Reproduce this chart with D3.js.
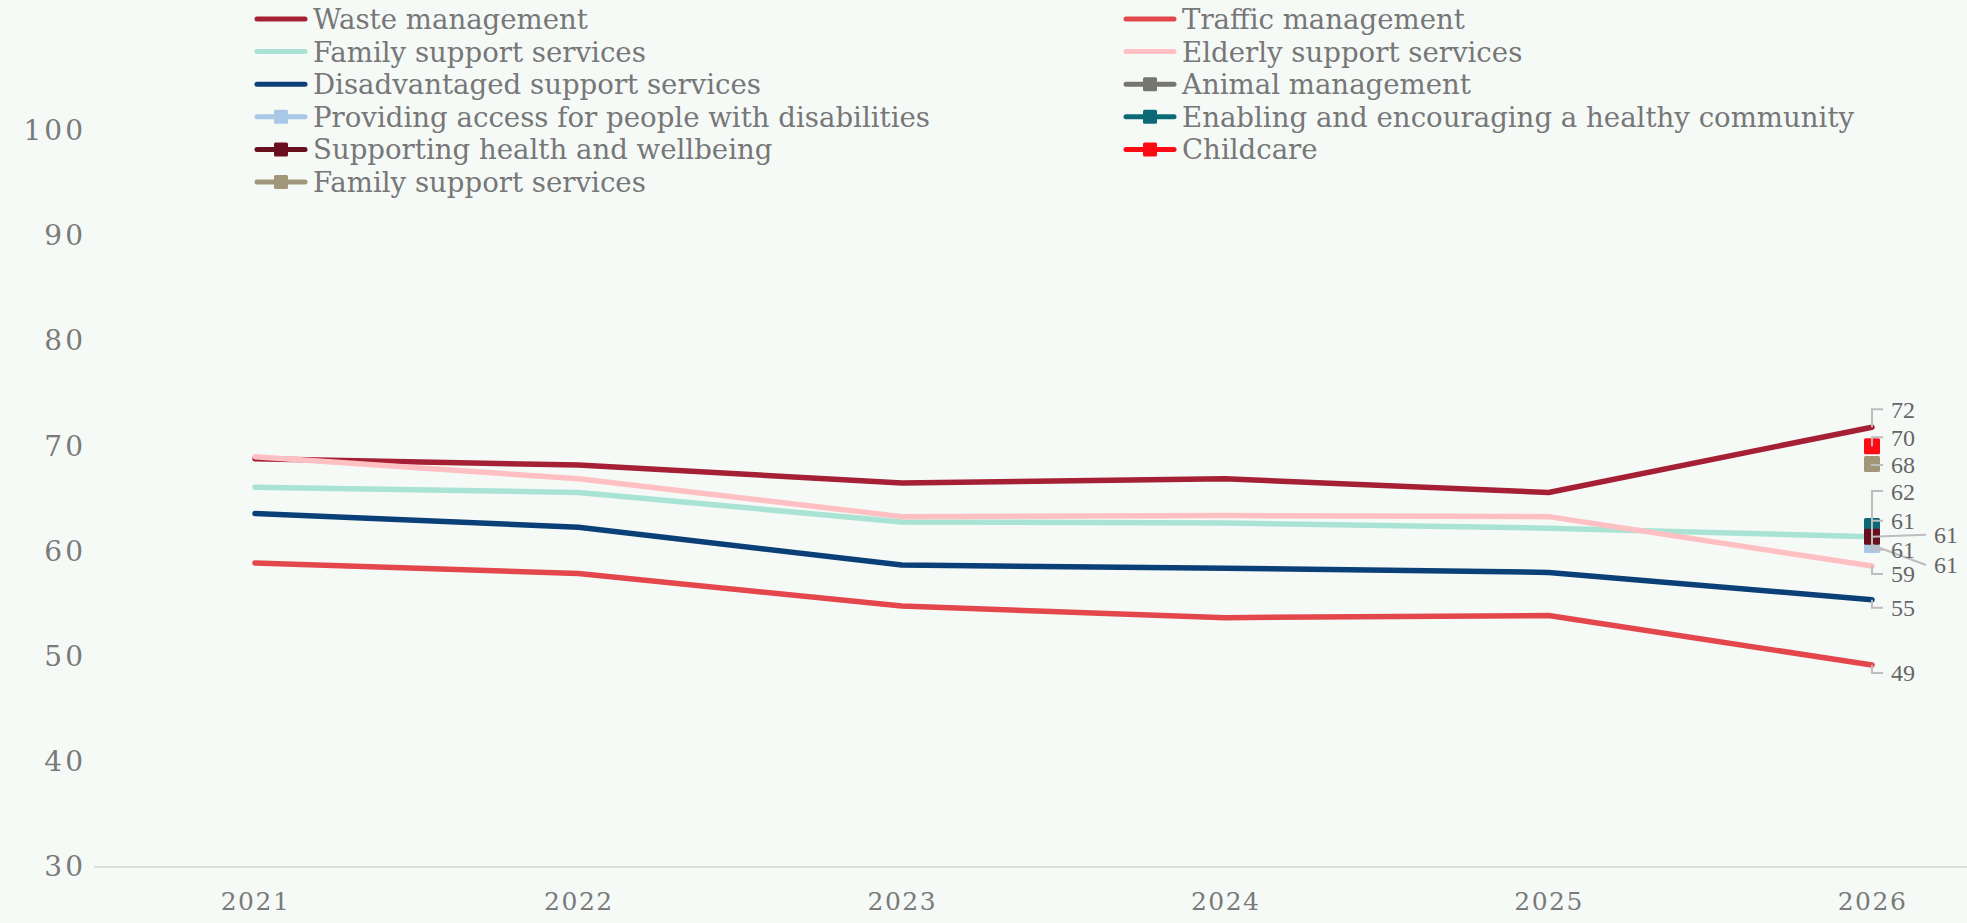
<!DOCTYPE html>
<html>
<head>
<meta charset="utf-8">
<script src="https://cdn.jsdelivr.net/npm/d3@7"></script>
<style>
  html, body { margin: 0; padding: 0; background: #f6faf7; }
  svg { display: block; }
</style>
</head>
<body>
<div id="chart"></div>
<script>
// data
var years = [2021, 2022, 2023, 2024, 2025, 2026];
var seriesNames = ["Waste management", "Traffic management", "Family support services",
    "Elderly support services", "Disadvantaged support services", "Animal management",
    "Providing access for people with disabilities", "Enabling and encouraging a healthy community",
    "Supporting health and wellbeing", "Childcare", "Family support services"];
var waste         = [68.8, 68.2, 66.5, 66.9, 65.6, 71.8];
var traffic       = [58.9, 57.9, 54.8, 53.7, 53.9, 49.2];
var family        = [66.1, 65.6, 62.8, 62.7, 62.2, 61.4];
var elderly       = [69.0, 66.9, 63.3, 63.4, 63.3, 58.6];
var disadvantaged = [63.6, 62.3, 58.7, 58.4, 58.0, 55.4];
var animal        = [null, null, null, null, null, 61.3];
var providing     = [null, null, null, null, null, 60.6];
var enabling      = [null, null, null, null, null, 62.4];
var supporting    = [null, null, null, null, null, 61.4];
var childcare     = [null, null, null, null, null, 70.0];
var family2       = [null, null, null, null, null, 68.3];
var yTicks = [30, 40, 50, 60, 70, 80, 90, 100];

var seriesValues = [waste, traffic, family, elderly, disadvantaged, animal,
    providing, enabling, supporting, childcare, family2];
var colors = ["#a51f35", "#e3464b", "#a8e3d3", "#ffc0c3", "#0b3f78", "#76756e",
    "#a9c7e6", "#0c6a77", "#6a0f1d", "#ff0a14", "#a1957a"];
// end label placement: offset of the label from its point (px), far = pushed right
var labelLayout = [
    {dy: -18}, {dy: 8}, {dy: -2, far: true}, {dy: 8}, {dy: 8}, {dy: -17},
    {dy: 20, far: true}, {dy: -35}, {dy: 13}, {dy: -9}, {dy: 1}
];

var width = 1967, height = 923;
var font = "'Liberation Serif', 'DejaVu Serif', serif";
var wideFont = "'DejaVu Serif', 'Liberation Serif', serif";

var svg = d3.select("#chart").append("svg")
    .attr("width", width).attr("height", height);

var x = d3.scalePoint().domain(years).range([255, 1872]);
var y = d3.scaleLinear().domain([30, 100]).range([867, 130.5]);

// baseline
svg.append("line")
    .attr("x1", 94).attr("x2", width)
    .attr("y1", y(30)).attr("y2", y(30))
    .attr("stroke", "#dcdedc").attr("stroke-width", 2);

// y axis labels
var yAxis = d3.axisLeft(y).tickValues(yTicks).tickSize(0).tickPadding(0);
var gy = svg.append("g").attr("transform", "translate(86,0)").call(yAxis);
gy.select(".domain").remove();
gy.selectAll("text")
    .style("font-family", wideFont).style("font-size", "28px")
    .style("letter-spacing", "3px")
    .attr("fill", "#7a7a7a");

// x axis labels
var xAxis = d3.axisBottom(x).tickSize(0).tickPadding(0);
var gx = svg.append("g").attr("transform", "translate(0,892)").call(xAxis);
gx.select(".domain").remove();
gx.selectAll("text")
    .style("font-family", wideFont).style("font-size", "25px")
    .style("letter-spacing", "1.5px")
    .attr("fill", "#7a7a7a");

var line = d3.line()
    .defined(function (d) { return d != null; })
    .x(function (d, i) { return x(years[i]); })
    .y(function (d) { return y(d); });

// lines
for (var k = 0; k < seriesValues.length; k++) {
    var vals = seriesValues[k];
    var count = vals.filter(function (v) { return v != null; }).length;
    if (count > 1) {
        svg.append("path")
            .datum(vals)
            .attr("d", line)
            .attr("fill", "none")
            .attr("stroke", colors[k])
            .attr("stroke-width", 5.5)
            .attr("stroke-linecap", "round")
            .attr("stroke-linejoin", "round");
    }
}
// single-point markers
for (var k = 0; k < seriesValues.length; k++) {
    var vals = seriesValues[k];
    var count = vals.filter(function (v) { return v != null; }).length;
    if (count === 1) {
        var i = vals.findIndex(function (v) { return v != null; });
        svg.append("rect")
            .attr("x", x(years[i]) - 8).attr("y", y(vals[i]) - 8)
            .attr("width", 16).attr("height", 16)
            .attr("rx", 1.5)
            .attr("fill", colors[k]);
    }
}

// end labels with leader lines
var gl = svg.append("g");
for (var k = 0; k < seriesValues.length; k++) {
    var last = seriesValues[k].length - 1;
    var v = seriesValues[k][last];
    if (v == null) continue;
    var px = x(years[last]), py = y(v);
    var lay = labelLayout[k];
    var ly = py + lay.dy;
    var lx = lay.far ? 1934 : 1891;
    var pts;
    if (lay.far) {
        pts = [[px, py], [lx - 8, ly]];
    } else {
        pts = [[px, py], [px, ly], [lx - 8, ly]];
    }
    gl.append("path")
        .attr("d", d3.line()(pts))
        .attr("fill", "none")
        .attr("stroke", "#bdbdbd")
        .attr("stroke-width", 2);
    gl.append("text")
        .attr("x", lx).attr("y", ly)
        .attr("dy", "0.35em")
        .style("font-family", font).style("font-size", "24px")
        .attr("fill", "#666")
        .text(d3.format(".0f")(v));
}

// legend: two columns
var legend = svg.append("g");
for (var k = 0; k < seriesNames.length; k++) {
    var col = k % 2, row = Math.floor(k / 2);
    var lx0 = col === 0 ? 255 : 1124;
    var ly0 = 19 + row * 32.6;
    var g = legend.append("g").attr("transform", "translate(" + lx0 + "," + ly0 + ")");
    g.append("line")
        .attr("x1", 2).attr("x2", 50)
        .attr("stroke", colors[k]).attr("stroke-width", 5)
        .attr("stroke-linecap", "round");
    var count = seriesValues[k].filter(function (v) { return v != null; }).length;
    if (count === 1) {
        g.append("rect")
            .attr("x", 19).attr("y", -7).attr("width", 14).attr("height", 14)
            .attr("rx", 1.5).attr("fill", colors[k]);
    }
    g.append("text")
        .attr("x", 58).attr("y", 0).attr("dy", "0.36em")
        .style("font-family", wideFont).style("font-size", "27.6px")
        .attr("fill", "#777")
        .text(seriesNames[k]);
}
</script>
</body>
</html>
